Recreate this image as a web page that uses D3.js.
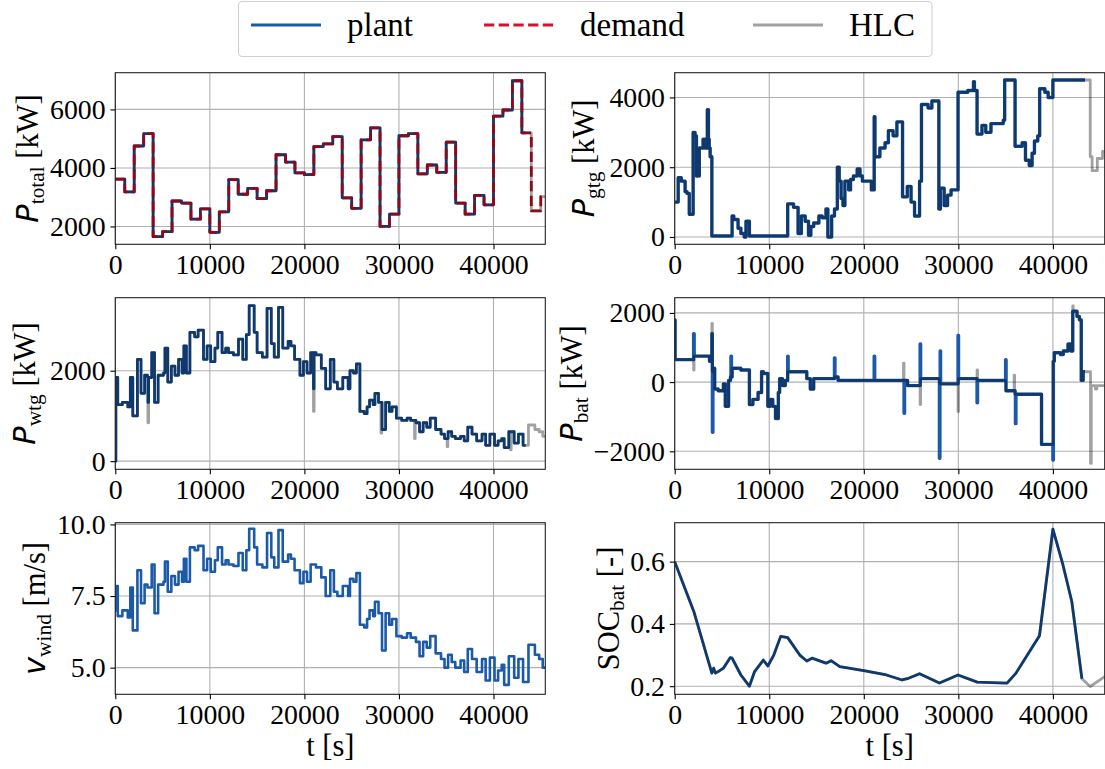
<!DOCTYPE html>
<meta charset="utf-8" />

<script src="https://d3js.org/d3.v7.min.js"></script>

<style>
	body { margin: 0; background: #fff; }
	svg { display: block; }
</style>
<div id="chart"></div>

<script>
	// ---- data ----
	const tTicks = [0, 10000, 20000, 30000, 40000];
	const tMax = 45480;
	const plantEnd = 43400; // plant runs stop here, HLC plan continues

	// total demand, one value every 1000 s
	const demandStep = 1000;
	const demand = [3620, 3180, 4750, 5170, 1650, 1820, 2870, 2800, 2250, 2600, 1800, 2500, 3600, 3100, 3300, 2950,
		3220, 4450, 4200, 3830, 3770, 4730, 4820, 5070, 2980, 2620, 4960, 5370, 2000, 2420, 5100, 5170, 3800, 4100,
		3850, 4880, 2800, 2420, 3060, 2740, 5770, 5980, 6980, 5200, 2530, 3020];

	// gas turbine [t, kW]
	const gtgSteps = [[0, 1000], [370, 1700], [700, 1600], [1100, 1300], [1300, 1250], [1540, 650], [1950, 3000],
		[2150, 2900], [2300, 1750], [2600, 2550], [3000, 2800], [3250, 2550], [3450, 3650], [3570, 2800], [3650, 2550],
		[3750, 2300], [3930, 30], [6070, 600], [6250, 500], [6700, 250], [7000, 100], [7350, 0], [7540, 450], [7900, 30],
		[11950, 950], [12570, 850], [13050, 100], [13400, 600], [13800, 450], [14150, 50], [14400, 300], [14700, 400],
		[15250, 600], [15600, 550], [16000, 800], [16200, 0], [16600, 600], [16900, 800], [17200, 2000], [17400, 1600],
		[17600, 1100], [17800, 900], [18000, 1600], [18400, 1350], [18600, 1650], [18900, 1750], [19300, 1950],
		[19600, 1750], [19850, 1600], [20800, 1350], [21100, 3450], [21180, 2300], [21700, 2550], [22250, 2700],
		[22600, 3050], [23100, 2900], [23500, 3300], [24100, 1150], [24600, 1450], [25000, 1000], [25370, 600],
		[25900, 1600], [26100, 3800], [26800, 3700], [27200, 3900], [27940, 800], [28100, 1400], [28500, 900],
		[28860, 1200], [29230, 1350], [29970, 4150], [31000, 4200], [31600, 4450], [31700, 4200], [31980, 2950],
		[32500, 3200], [32900, 3000], [33450, 3250], [34750, 3350], [34900, 4500], [36000, 2600], [36750, 2700],
		[37100, 2200], [37500, 2050], [37800, 2400], [38050, 2750], [38400, 2900], [38600, 4250], [39150, 4150],
		[39500, 4000], [40000, 4500]];
	const gtgHlcTail = [[43950, 2300], [44150, 1900], [44700, 2250], [45250, 2450]];

	// wind: step times, wind speed [m/s] and wind turbine power [kW]
	const windT = [0, 60, 260, 750, 1320, 1590, 1850, 2340, 2720, 3100, 3400, 3850, 4150, 4530, 5100, 5250, 5550,
		5930, 6310, 6690, 7060, 7250, 7520, 7890, 8390, 8760, 9330, 9710, 10090, 10540, 10840, 11290, 11670, 11970,
		12500, 13030, 13480, 13860, 14160, 14690, 15000, 15560, 16050, 16500, 16810, 17260, 17710, 18280, 18580,
		18960, 19530, 19900, 20280, 20660, 21230, 21790, 22250, 22740, 23120, 23490, 24060, 24630, 24820, 25190,
		25500, 25870, 26330, 26630, 26890, 27270, 27460, 27840, 28210, 28590, 28970, 29270, 29730, 30290, 30860,
		31240, 31800, 32180, 32560, 32940, 33310, 33880, 34450, 34820, 35200, 35580, 35960, 36520, 36900, 37280,
		37730, 38220, 38790, 39170, 39620, 40110, 40490, 40870, 41130, 41620, 42190, 42640, 43130, 43700, 44380,
		44830, 45210];
	const windV = [7.0, 7.85, 6.8, 7.0, 6.75, 7.8, 6.3, 8.4, 7.25, 7.9, 7.8, 8.6, 6.9, 7.9, 8.0, 8.7, 7.65, 8.2, 7.9,
		8.35, 8.0, 8.8, 8.0, 9.2, 9.1, 9.25, 8.4, 8.8, 8.35, 8.75, 9.2, 8.6, 8.75, 8.6, 8.55, 9.0, 8.4, 9.1, 9.85, 9.2,
		8.6, 8.5, 9.7, 8.85, 8.5, 9.8, 8.7, 8.95, 8.8, 8.4, 7.95, 8.35, 8.0, 8.6, 8.5, 8.15, 7.5, 8.4, 7.65, 7.5, 7.85,
		7.5, 8.1, 8.0, 8.3, 6.5, 6.4, 6.7, 7.0, 6.8, 7.3, 6.9, 5.6, 6.9, 6.5, 6.7, 6.1, 6.05, 6.2, 6.05, 5.9, 5.4, 5.9,
		5.7, 6.1, 5.5, 5.3, 5.0, 5.45, 5.2, 5.0, 5.25, 4.85, 5.65, 5.3, 4.85, 5.3, 4.55, 5.35, 4.55, 4.9, 5.1, 4.4,
		5.4, 4.65, 5.3, 4.5, 5.8, 5.45, 5.3, 5.0];
	const wtgV = [0, 1850, 1250, 1300, 1200, 1850, 1000, 2250, 1500, 1900, 1850, 2400, 1300, 1900, 1950, 2500, 1750,
		2100, 1900, 2250, 1950, 2550, 1950, 2850, 2750, 2900, 2250, 2550, 2200, 2500, 2850, 2400, 2500, 2400, 2350,
		2700, 2250, 2800, 3440, 2850, 2400, 2300, 3380, 2600, 2300, 3400, 2500, 2650, 2550, 2250, 1900, 2200, 1950,
		2400, 2350, 2050, 1600, 2250, 1750, 1600, 1850, 1600, 2000, 1950, 2150, 1100, 1050, 1200, 1350, 1250, 1500,
		1300, 700, 1300, 1100, 1200, 950, 900, 950, 900, 850, 650, 850, 750, 950, 700, 600, 500, 650, 550, 500, 550,
		450, 750, 600, 450, 600, 350, 600, 350, 450, 500, 300, 650, 400, 600, 350, 800, 700, 650, 550];
	// short dips [t, kW, duration]
	const wtgPlantSpikes = [[3450, 1300, 70], [20960, 1600, 60]];
	const wtgHlcSpikes = [[3450, 850, 70], [20960, 1100, 70], [28100, 620, 70], [31650, 500, 70], [35100, 320, 70],
		[41800, 250, 70]];

	// battery [t, kW]
	const batSteps = [[0, 1800], [40, 650], [2000, 750], [3680, 600], [3930, 300], [4100, 400], [4230, -200],
		[4600, -250], [5150, -50], [5350, -700], [5700, 50], [5900, 150], [6070, 400], [7000, 350], [7900, -650],
		[8270, -500], [8820, -300], [9190, 300], [9370, 250], [9850, -700], [10100, -500], [10370, -700],
		[10660, -1050], [10960, -300], [11100, 100], [11400, -100], [11700, 50], [11950, 300], [13970, 100],
		[14340, -200], [14700, 100], [16900, 150], [17280, 50], [24630, -100], [26000, 100], [28000, -50],
		[29970, 100], [31980, 50], [35000, -250], [36000, -350], [38800, -1800], [40000, 600], [40150, 850],
		[40800, 800], [41100, 900], [41600, 1100], [41900, 900], [42100, 2050], [42550, 1900], [42800, 1800],
		[43000, 50], [43200, 300]];
	const batHlcTail = [[43980, -2350], [44060, -100], [44500, -200], [44650, -100]];
	const batPlantSpikes = [[2000, 1400, 60], [3930, 1400, 50], [3990, -1450, 50], [5950, 750, 50], [11950, 750, 50],
		[16900, 700, 50], [21100, 750, 50], [24260, -900, 50], [25960, 1100, 50], [28000, -2200, 50], [28080, 900, 40],
		[29970, 1350, 50], [31980, -600, 50], [35000, 650, 50], [36040, -1200, 50], [40000, -2250, 50]];
	const batHlcSpikes = [[2000, 350, 50], [3930, 1700, 50], [24200, 550, 50], [25960, -650, 50], [29970, -850, 50],
		[31980, 350, 50], [35900, 200, 50], [42100, 2200, 50]];

	// battery state of charge [t, -]
	const socPlant = [[0, 0.60], [2020, 0.44], [3930, 0.242], [4120, 0.258], [4300, 0.242], [4600, 0.247],
		[5150, 0.258], [5880, 0.292], [6070, 0.29], [7000, 0.236], [7900, 0.20], [8450, 0.247], [9370, 0.284],
		[9850, 0.265], [10480, 0.30], [11210, 0.36], [11950, 0.356], [13230, 0.30], [13970, 0.281], [14520, 0.29],
		[16000, 0.274], [16540, 0.282], [17460, 0.263], [20000, 0.25], [22400, 0.236], [24050, 0.22], [24600, 0.224],
		[25900, 0.24], [28000, 0.21], [29970, 0.236], [32000, 0.213], [35150, 0.21], [36100, 0.242], [38580, 0.362],
		[40000, 0.704], [41060, 0.59], [42000, 0.472], [43070, 0.224]];
	const socHlcTail = [[43950, 0.199], [45480, 0.231]];

	// ---- helpers ----
	const blue = "#1b5aa8", red = "#d7102b", hlcOpacity = 0.37;
	const serif = "'Liberation Serif'";
	const sans = "'DejaVu Sans'";

	function finish(steps, tEnd) {
		const s = steps.filter(p => p[0] < tEnd);
		return s.concat([[tEnd, s[s.length - 1][1]]]);
	}
	function valueAt(steps, t) {
		let v = steps[0][1];
		steps.forEach(p => { if (p[0] <= t) v = p[1]; });
		return v;
	}
	function applySpikes(steps, spikes) {
		let out = steps.slice();
		spikes.forEach(([t, v, d]) => {
			const after = valueAt(out, t + d);
			out = out.filter(p => p[0] < t || p[0] > t + d);
			out.push([t, v], [t + d, after]);
			out.sort((a, b) => a[0] - b[0]);
		});
		return out;
	}

	// ---- layout ----
	const width = 1105, height = 769;
	const colLeft = [115.3, 674.7], plotW = 430;
	const rowTop = [72.7, 297.7, 522.7], plotH = 171.6;

	const svg = d3.select("#chart").append("svg").attr("width", width).attr("height", height);

	function panel(col, row, yDomain, yTicks, yFormat, label, series) {
		const x = d3.scaleLinear().domain([0, tMax]).range([0, plotW]);
		const y = d3.scaleLinear().domain(yDomain).range([plotH, 0]);
		const g = svg.append("g").attr("transform", `translate(${colLeft[col]},${rowTop[row]})`);

		// grid
		g.append("g").selectAll("line").data(tTicks).join("line")
			.attr("x1", d => x(d)).attr("x2", d => x(d)).attr("y1", 0).attr("y2", plotH)
			.attr("stroke", "#b0b0b0").attr("stroke-width", 1.1);
		g.append("g").selectAll("line").data(yTicks).join("line")
			.attr("x1", 0).attr("x2", plotW).attr("y1", d => y(d)).attr("y2", d => y(d))
			.attr("stroke", "#b0b0b0").attr("stroke-width", 1.1);

		const clipId = `clip-${col}-${row}`;
		g.append("clipPath").attr("id", clipId).append("rect").attr("width", plotW).attr("height", plotH);
		const lines = g.append("g").attr("clip-path", `url(#${clipId})`);
		series.forEach(s => {
			lines.append("path").datum(s.pts)
				.attr("fill", "none")
				.attr("stroke", s.color)
				.attr("stroke-width", s.width || 2.8)
				.attr("stroke-opacity", s.opacity || 1)
				.attr("stroke-dasharray", s.dash || null)
				.attr("stroke-linejoin", "round")
				.attr("d", d3.line().x(d => x(d[0])).y(d => y(d[1]))
					.curve(s.step ? d3.curveStepAfter : d3.curveLinear));
		});

		g.append("rect").attr("width", plotW).attr("height", plotH)
			.attr("fill", "none").attr("stroke", "#222").attr("stroke-width", 1.1);

		const xAxis = g.append("g").attr("transform", `translate(0,${plotH})`)
			.call(d3.axisBottom(x).tickValues(tTicks).tickFormat(d3.format("d")).tickSize(4.9).tickPadding(5.4));
		const yAxis = g.append("g")
			.call(d3.axisLeft(y).tickValues(yTicks).tickFormat(yFormat).tickSize(4.9).tickPadding(4.8));
		[xAxis, yAxis].forEach(a => {
			a.select(".domain").remove();
			a.selectAll(".tick line").attr("stroke", "#000").attr("stroke-width", 1.1);
			a.selectAll(".tick text").style("font-family", serif).style("font-size", "27.8px").attr("fill", "#000");
		});

		// y label, placed left of the widest tick label
		let tickLeft = 0;
		yAxis.selectAll("text").each(function () { tickLeft = Math.min(tickLeft, this.getBBox().x); });
		const drop = /[gjpqy]/.test(label.sub) ? 15 : 11.7;
		const lt = g.append("text")
			.attr("transform", `translate(${tickLeft - drop},${plotH / 2}) rotate(-90)`)
			.attr("text-anchor", "middle")
			.style("font-family", serif)
			.style("font-size", "30.5px");
		const main = lt.append("tspan").text(label.main);
		if (label.italic) main.style("font-family", sans).style("font-style", "italic");
		lt.append("tspan").text(label.sub).style("font-size", "21.4px").attr("dy", 5.5);
		lt.append("tspan").text(label.unit).attr("dy", -5.5);

		if (row === 2) {
			g.append("text")
				.attr("x", plotW / 2).attr("y", plotH + 61.7)
				.attr("text-anchor", "middle")
				.style("font-family", serif).style("font-size", "30.5px")
				.text("t [s]");
		}
	}

	// ---- series ----
	const demandSteps = demand.map((v, i) => [i * demandStep, v]);
	const wtgSteps = windT.map((t, i) => [t, wtgV[i]]);
	const windSteps = windT.map((t, i) => [t, windV[i]]);

	panel(0, 0, [1390, 7255], [2000, 4000, 6000], d3.format("d"),
		{ main: "P", italic: true, sub: "total", unit: " [kW]" }, [
		{ pts: finish(demandSteps, plantEnd), color: blue, step: true },
		{ pts: finish(demandSteps, tMax), color: red, step: true, dash: "10.3,4.4" },
		{ pts: finish(demandSteps, tMax), color: "#000", opacity: hlcOpacity, step: true }
	]);

	panel(1, 0, [-210, 4710], [0, 2000, 4000], d3.format("d"),
		{ main: "P", italic: true, sub: "gtg", unit: " [kW]" }, [
		{ pts: finish(gtgSteps, plantEnd), color: blue, step: true, width: 3.4 },
		{ pts: finish(gtgSteps.concat(gtgHlcTail), tMax), color: "#000", opacity: hlcOpacity, step: true }
	]);

	panel(0, 1, [-180, 3615], [0, 2000], d3.format("d"),
		{ main: "P", italic: true, sub: "wtg", unit: " [kW]" }, [
		{ pts: finish(applySpikes(wtgSteps, wtgPlantSpikes), plantEnd), color: blue, step: true },
		{ pts: finish(applySpikes(wtgSteps, wtgHlcSpikes), tMax), color: "#000", opacity: hlcOpacity, step: true }
	]);

	panel(1, 1, [-2520, 2440], [-2000, 0, 2000], d3.format("d"),
		{ main: "P", italic: true, sub: "bat", unit: " [kW]" }, [
		{ pts: finish(applySpikes(batSteps, batPlantSpikes), plantEnd), color: blue, step: true, width: 3.4 },
		{ pts: finish(applySpikes(batSteps.concat(batHlcTail), batHlcSpikes), tMax), color: "#000",
			opacity: hlcOpacity, step: true }
	]);

	panel(0, 2, [4.07, 10.06], [5.0, 7.5, 10.0], d3.format(".1f"),
		{ main: "v", italic: true, sub: "wind", unit: " [m/s]" }, [
		{ pts: finish(windSteps, tMax), color: blue, step: true, width: 2.6 }
	]);

	panel(1, 2, [0.174, 0.725], [0.2, 0.4, 0.6], d3.format(".1f"),
		{ main: "SOC", italic: false, sub: "bat", unit: " [-]" }, [
		{ pts: socPlant, color: blue },
		{ pts: socPlant.concat(socHlcTail), color: "#000", opacity: hlcOpacity }
	]);

	// ---- legend ----
	const legendItems = [
		{ name: "plant", color: blue, x: 251 },
		{ name: "demand", color: red, x: 484, dash: "10.3,4.4" },
		{ name: "HLC", color: "#000", opacity: hlcOpacity, x: 753 }
	];
	const legend = svg.append("g");
	legend.append("rect").attr("x", 238.5).attr("y", 1.5).attr("width", 693.5).attr("height", 55)
		.attr("rx", 4).attr("fill", "#fff").attr("fill-opacity", 0.8)
		.attr("stroke", "#d0d0d0").attr("stroke-width", 1.1);
	legendItems.forEach(d => {
		legend.append("line").attr("x1", d.x).attr("x2", d.x + 70).attr("y1", 25).attr("y2", 25)
			.attr("stroke", d.color).attr("stroke-width", 2.8)
			.attr("stroke-opacity", d.opacity || 1)
			.attr("stroke-dasharray", d.dash || null);
		legend.append("text")
			.attr("x", d.x + 96).attr("y", 36)
			.style("font-family", serif).style("font-size", "33px")
			.text(d.name);
	});
</script>
